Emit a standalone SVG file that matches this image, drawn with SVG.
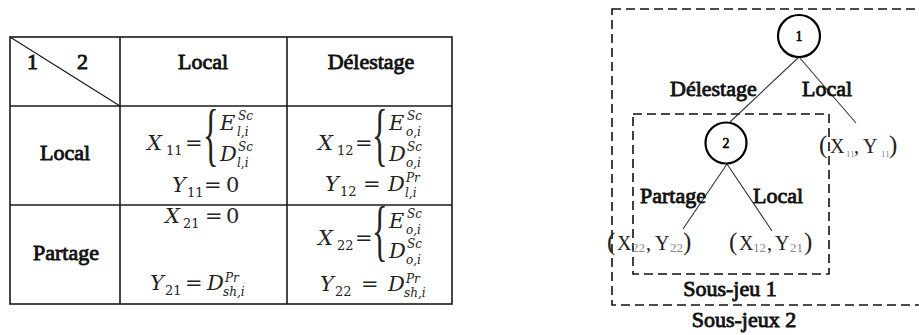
<svg xmlns="http://www.w3.org/2000/svg" width="919" height="335" viewBox="0 0 919 335">
<style>
.grid{stroke:#1a1a1a;stroke-width:1.6;fill:none}
.b{font-family:"Liberation Serif","Times New Roman",serif;font-size:22px;fill:#111;stroke:#111;stroke-width:0.85}
.m{font-family:"DejaVu Serif",serif;font-style:italic;font-size:21px;fill:#222}
.u{font-family:"DejaVu Serif",serif;font-size:21px;fill:#222}
.s{font-family:"DejaVu Serif",serif;font-size:13px;fill:#222}
.si{font-family:"DejaVu Serif",serif;font-style:italic;font-size:12px;fill:#222}
.br{font-family:"Liberation Serif",serif;font-size:24px;fill:#222}
.dash{stroke:#111;stroke-width:1.6;fill:none;stroke-dasharray:9 5}
.edge{stroke:#333;stroke-width:1.1;fill:none}
.node{stroke:#000;stroke-width:2.2;fill:#fff}
.nl{font-family:"Liberation Serif",serif;font-size:14px;fill:#000;stroke:#000;stroke-width:0.6}
.t{font-family:"Liberation Serif",serif;font-size:20px;fill:#222}
.p{font-family:"Liberation Serif",serif;font-size:25px;fill:#222}
.g{font-family:"Liberation Serif",serif;font-size:9px;fill:#888}
.g2{font-family:"Liberation Serif",serif;font-size:13px;fill:#888}
</style>

<!-- Table -->
<g id="table">
  <rect class="grid" x="10" y="37" width="442" height="267"/>
  <line class="grid" x1="120" y1="37" x2="120" y2="304"/>
  <line class="grid" x1="287" y1="37" x2="287" y2="304"/>
  <line class="grid" x1="10" y1="106" x2="452" y2="106"/>
  <line class="grid" x1="10" y1="205" x2="452" y2="205"/>
  <line class="grid" x1="10" y1="37" x2="120" y2="106" style="stroke-width:1.2"/>
  <text class="b" x="27" y="69">1</text>
  <text class="b" x="77" y="69">2</text>
  <text class="b" x="203" y="69" text-anchor="middle">Local</text>
  <text class="b" x="371" y="69" text-anchor="middle">Délestage</text>
  <text class="b" x="65" y="160" text-anchor="middle">Local</text>
  <text class="b" x="66" y="260" text-anchor="middle">Partage</text>
</g>

<!-- Cell Local/Local -->
<g id="cell11">
  <text class="m" x="147" y="150">X</text>
  <text class="s" x="166" y="155">11</text>
  <text class="u" x="185" y="150">=</text>
  <text class="br" transform="translate(203,157.5) scale(1.35,2.93)">{</text>
  <text class="m" x="220" y="130">E</text>
  <text class="si" x="238" y="120">Sc</text>
  <text class="si" x="237" y="136">l,i</text>
  <text class="m" x="220" y="161">D</text>
  <text class="si" x="238" y="151">Sc</text>
  <text class="si" x="237" y="167">l,i</text>
  <text class="m" x="172" y="192">Y</text>
  <text class="s" x="187" y="197">11</text>
  <text class="u" x="204" y="192">=</text>
  <text class="u" x="226" y="192">0</text>
</g>

<!-- Cell Local/Délestage -->
<g id="cell12">
  <text class="m" x="318" y="150">X</text>
  <text class="s" x="337" y="155">12</text>
  <text class="u" x="355" y="150">=</text>
  <text class="br" transform="translate(372,157.5) scale(1.35,2.93)">{</text>
  <text class="m" x="389" y="130">E</text>
  <text class="si" x="407" y="120">Sc</text>
  <text class="si" x="406" y="136">o,i</text>
  <text class="m" x="389" y="161">D</text>
  <text class="si" x="407" y="151">Sc</text>
  <text class="si" x="406" y="167">o,i</text>
  <text class="m" x="325" y="191">Y</text>
  <text class="s" x="340" y="196">12</text>
  <text class="u" x="363" y="191">=</text>
  <text class="m" x="388" y="191">D</text>
  <text class="si" x="406" y="182">Pr</text>
  <text class="si" x="405" y="197">l,i</text>
</g>

<!-- Cell Partage/Local -->
<g id="cell21">
  <text class="m" x="165" y="223">X</text>
  <text class="s" x="183" y="228">21</text>
  <text class="u" x="205" y="223">=</text>
  <text class="u" x="226" y="223">0</text>
  <text class="m" x="150" y="290">Y</text>
  <text class="s" x="165" y="295">21</text>
  <text class="u" x="185" y="290">=</text>
  <text class="m" x="207" y="290">D</text>
  <text class="si" x="225" y="282">Pr</text>
  <text class="si" x="223" y="296">sh,i</text>
</g>

<!-- Cell Partage/Délestage -->
<g id="cell22">
  <text class="m" x="318" y="245">X</text>
  <text class="s" x="337" y="250">22</text>
  <text class="u" x="355" y="245">=</text>
  <text class="br" transform="translate(372,253) scale(1.35,2.78)">{</text>
  <text class="m" x="389" y="228">E</text>
  <text class="si" x="407" y="218">Sc</text>
  <text class="si" x="406" y="234">o,i</text>
  <text class="m" x="389" y="258">D</text>
  <text class="si" x="407" y="248">Sc</text>
  <text class="si" x="406" y="264">o,i</text>
  <text class="m" x="320" y="291">Y</text>
  <text class="s" x="335" y="296">22</text>
  <text class="u" x="361" y="291">=</text>
  <text class="m" x="388" y="291">D</text>
  <text class="si" x="406" y="283">Pr</text>
  <text class="si" x="404" y="297">sh,i</text>
</g>

<!-- Tree: subgame frames -->
<g id="subgame2">
  <rect class="dash" x="612" y="9" width="330" height="296"/>
  <text class="b" x="744" y="327" text-anchor="middle">Sous-jeux 2</text>
</g>
<g id="subgame1">
  <rect class="dash" x="633" y="114" width="196" height="160"/>
  <text class="b" x="730" y="296" text-anchor="middle">Sous-jeu 1</text>
</g>

<!-- Connectors -->
<g id="connectors">
  <line class="edge" x1="799" y1="57" x2="730" y2="122"/>
  <line class="edge" x1="799" y1="57" x2="856" y2="123"/>
  <line class="edge" x1="727" y1="164" x2="683" y2="229"/>
  <line class="edge" x1="727" y1="164" x2="772" y2="231"/>
  <text class="b" x="670" y="96">Délestage</text>
  <text class="b" x="802" y="96">Local</text>
  <text class="b" x="640" y="203">Partage</text>
  <text class="b" x="753" y="203">Local</text>
</g>

<!-- Nodes -->
<g id="node1">
  <circle class="node" cx="799" cy="36" r="21"/>
  <text class="nl" x="799" y="41" text-anchor="middle">1</text>
</g>
<g id="node2">
  <circle class="node" cx="726" cy="143" r="20.5"/>
  <text class="nl" x="726" y="148" text-anchor="middle">2</text>
</g>

<!-- Payoffs -->
<g id="payoff11">
  <text class="t" y="153"><tspan class="p" x="819">(</tspan><tspan x="830">X</tspan><tspan class="g" x="846" y="157">11</tspan><tspan x="854" y="153">,</tspan><tspan x="863">Y</tspan><tspan class="g" x="881" y="157">11</tspan><tspan class="p" x="889" y="153">)</tspan></text>
</g>
<g id="payoff22">
  <text class="t" y="250"><tspan class="p" x="607">(</tspan><tspan x="617">X</tspan><tspan class="g2" x="632" y="252">22</tspan><tspan x="646" y="250">,</tspan><tspan x="655">Y</tspan><tspan class="g2" x="670" y="252">22</tspan><tspan class="p" x="683" y="250">)</tspan></text>
</g>
<g id="payoff12">
  <text class="t" y="250"><tspan class="p" x="729">(</tspan><tspan x="739">X</tspan><tspan class="g2" x="753" y="252">12</tspan><tspan x="767" y="250">,</tspan><tspan x="775">Y</tspan><tspan class="g2" x="790" y="252">21</tspan><tspan class="p" x="804" y="250">)</tspan></text>
</g>
</svg>
